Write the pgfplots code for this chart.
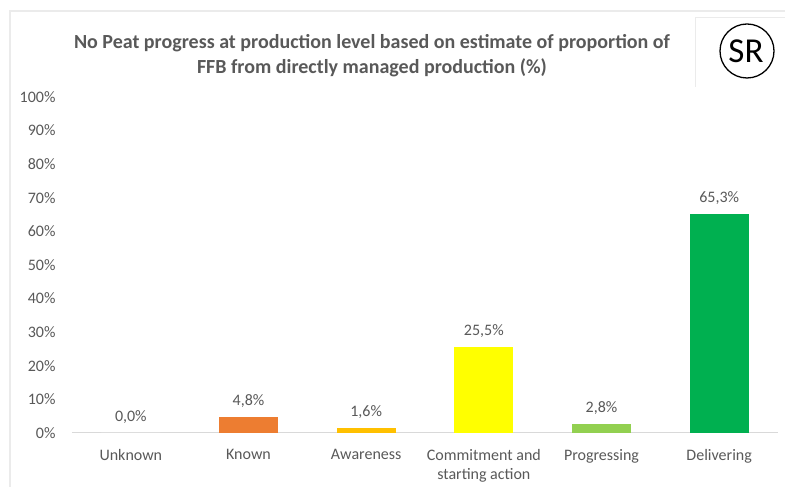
\documentclass[border=0pt]{standalone}
\usepackage{pgfplots}
\pgfplotsset{compat=1.18}
\usepackage{fontspec}
\setmainfont{Carlito}
\definecolor{tgray}{HTML}{595959}
\definecolor{bord}{HTML}{EBEBEB}
\definecolor{axgray}{HTML}{D9D9D9}
\definecolor{cKnown}{HTML}{ED7D31}
\definecolor{cAware}{HTML}{FFC000}
\definecolor{cCommit}{HTML}{FFFF00}
\definecolor{cProg}{HTML}{92D050}
\definecolor{cDeliv}{HTML}{00B050}
\begin{document}
\begin{tikzpicture}[x=1pt,y=1pt]
\useasboundingbox (0,0) rectangle (785,487);
\fill[white] (0,0) rectangle (785,487);
\draw[line width=2pt, color=bord] (10,0) -- (10,476) -- (785,476);
\draw[line width=0.8pt, color=bord] (695,400) -- (695,470) -- (785,470);
\draw[line width=1.3pt] (747,436) circle (27);
\node at (746,436) {\fontsize{35}{38}\selectfont SR};
\node[align=center, text=tgray, font=\fontsize{20}{25}\selectfont\bfseries] at (372,431.5)
  {No Peat progress at production level based on estimate of proportion of\\FFB from directly managed production (\%)};
\begin{axis}[
  at={(72pt,54pt)}, anchor=south west, scale only axis,
  width=706pt, height=336pt,
  xmin=-0.5, xmax=5.5, ymin=0, ymax=100,
  axis x line*=bottom, axis y line*=left,
  y axis line style={draw=none},
  x axis line style={draw=axgray, line width=1pt},
  major tick length=0pt,
  ytick={0,10,...,100},
  yticklabel={\pgfmathprintnumber{\tick}\%},
  yticklabel style={font=\fontsize{16}{18}\selectfont, text=tgray, xshift=-13pt},
  /pgf/number format/assume math mode=true,
  xtick={0,1,2,3,4,5},
  xticklabels={Unknown,Known,Awareness,{Commitment and\\starting action},Progressing,Delivering},
  xticklabel style={font=\fontsize{16}{19}\selectfont, text=tgray, align=center, anchor=north, yshift=-13pt},
  ybar, bar width=59pt, bar shift=0pt,
  nodes near coords={\pgfmathprintnumber[fixed,fixed zerofill,precision=1,use comma]{\pgfplotspointmeta}\%},
  every node near coord/.append style={font=\fontsize{16}{19}\selectfont, text=tgray, anchor=south, yshift=6pt},
  clip=false,
]
\addplot[fill=white, draw=none] coordinates {(0,0)};
\addplot[fill=cKnown, draw=none] coordinates {(1,4.8)};
\addplot[fill=cAware, draw=none] coordinates {(2,1.6)};
\addplot[fill=cCommit, draw=none] coordinates {(3,25.5)};
\addplot[fill=cProg, draw=none] coordinates {(4,2.8)};
\addplot[fill=cDeliv, draw=none] coordinates {(5,65.3)};
\end{axis}
\end{tikzpicture}
\end{document}
